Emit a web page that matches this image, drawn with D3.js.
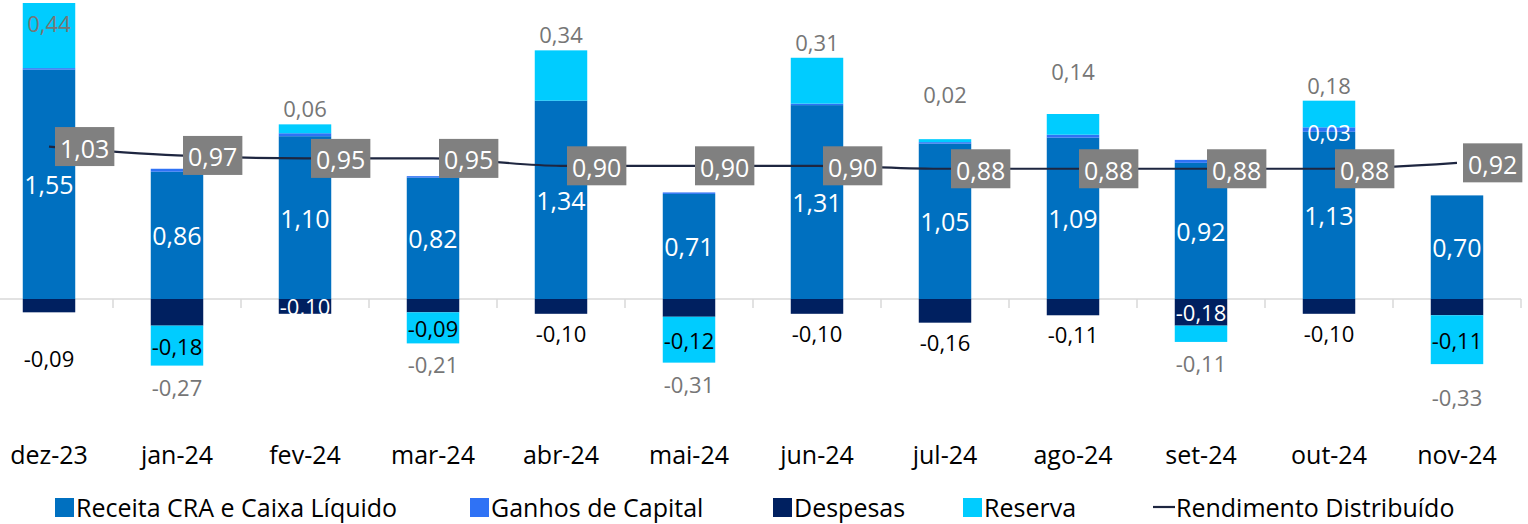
<!doctype html>
<html>
  <head>
    <script src="https://cdn.jsdelivr.net/npm/d3@7/dist/d3.min.js"></script>
    <style>
      body { margin: 0; background: #fff; }
      text { font-family: "Open Sans", sans-serif; }
    </style>
  </head>
  <body>
    <svg id="chart" width="1528" height="524"></svg>
    <script>
      // data
      var months = ["dez-23","jan-24","fev-24","mar-24","abr-24","mai-24","jun-24","jul-24","ago-24","set-24","out-24","nov-24"];
      var receita = [1.55, 0.86, 1.10, 0.82, 1.34, 0.71, 1.31, 1.05, 1.09, 0.92, 1.13, 0.70];
      var ganhos  = [0.01, 0.02, 0.02, 0.01, 0.00, 0.01, 0.01, 0.01, 0.02, 0.02, 0.03, 0.00];
      var despesas = [-0.09, -0.18, -0.10, -0.09, -0.10, -0.12, -0.10, -0.16, -0.11, -0.18, -0.10, -0.11];
      var reserva = [0.44, -0.27, 0.06, -0.21, 0.34, -0.31, 0.31, 0.02, 0.14, -0.11, 0.18, -0.33];
      var rendimento = [1.03, 0.97, 0.95, 0.95, 0.90, 0.90, 0.90, 0.88, 0.88, 0.88, 0.88, 0.92];

      var colors = {receita: "#0070C0", ganhos: "#2F72F5", despesas: "#002060", reserva: "#00CCFF", line: "#1E2640", box: "#808080"};
      // despesas labels that sit inside the dark bar (as in the source)
      var despInside = ["fev-24", "set-24"];
      // hand-moved labels in the source chart (pixels)
      var labelNudge = {"dez-23": {despesas: 27}, "jul-24": {reserva: -29}, "ago-24": {reserva: -27}, "nov-24": {reserva: 12}};
      var nudge = function(m, k) { return (labelNudge[m] && labelNudge[m][k]) || 0; };

      var svg = d3.select("#chart");
      var fmt = function(v) { return d3.format(".2f")(v).replace(".", ",").replace("−", "-"); };

      var x = d3.scaleBand().domain(months).range([-15, 1521]).paddingInner(0.59).paddingOuter(0.295);
      var y = d3.scaleLinear().domain([-0.6, 2.0]).range([387.8, 3]);
      var cx = function(m) { return x(m) + x.bandwidth() / 2; };

      // zero axis with ticks
      var axisG = svg.append("g");
      axisG.append("line").attr("x1", 0).attr("x2", 1521).attr("y1", y(0)).attr("y2", y(0))
        .attr("stroke", "#d9d9d9").attr("stroke-width", 1.5);
      axisG.selectAll("tick").data(months).enter().append("line")
        .attr("x1", function(d) { return cx(d) + x.step() / 2; })
        .attr("x2", function(d) { return cx(d) + x.step() / 2; })
        .attr("y1", y(0)).attr("y2", y(0) + 9)
        .attr("stroke", "#d9d9d9").attr("stroke-width", 1.5);

      // build segments
      var segs = [];
      months.forEach(function(m, i) {
        var pos = 0, neg = 0;
        segs.push({m: m, k: "receita", y0: pos, y1: pos += receita[i], v: receita[i]});
        if (ganhos[i] > 0) segs.push({m: m, k: "ganhos", y0: pos, y1: pos += ganhos[i], v: ganhos[i]});
        segs.push({m: m, k: "despesas", y0: neg, y1: neg += despesas[i], v: despesas[i]});
        if (reserva[i] > 0) segs.push({m: m, k: "reserva", y0: pos, y1: pos += reserva[i], v: reserva[i]});
        else segs.push({m: m, k: "reserva", y0: neg, y1: neg += reserva[i], v: reserva[i]});
      });

      svg.append("g").selectAll("rect").data(segs).enter().append("rect")
        .attr("x", function(d) { return x(d.m); })
        .attr("width", x.bandwidth())
        .attr("y", function(d) { return y(Math.max(d.y0, d.y1)); })
        .attr("height", function(d) { return Math.abs(y(d.y0) - y(d.y1)); })
        .attr("fill", function(d) { return colors[d.k]; });

      // line
      var line = d3.line().x(function(d, i) { return cx(months[i]); }).y(function(d) { return y(d); })
        .curve(d3.curveMonotoneX);
      svg.append("path").datum(rendimento).attr("d", line)
        .attr("fill", "none").attr("stroke", colors.line).attr("stroke-width", 2.2);

      // labels
      var lab = svg.append("g");
      function addText(tx, ty, t, size, fill) {
        return lab.append("text").attr("x", tx).attr("y", ty).attr("text-anchor", "middle")
          .attr("dominant-baseline", "central").attr("font-size", size).attr("fill", fill).text(t);
      }
      segs.forEach(function(d) {
        var c = cx(d.m), n = nudge(d.m, d.k);
        if (d.k === "receita") addText(c, y(d.v / 2), fmt(d.v), 25, "#fff");
        if (d.k === "ganhos" && d.v >= 0.03) addText(c, y((d.y0 + d.y1) / 2) + 2, fmt(d.v), 22, "#fff");
        if (d.k === "reserva") {
          if (d.v > 0) addText(c, Math.max(y(d.y1) - 16, 23) + n, fmt(d.v), 22, "#767676");
          else addText(c, y(d.y1) + 21 + n, fmt(d.v), 22, "#767676");
        }
        if (d.k === "despesas") {
          var i = months.indexOf(d.m);
          if (despInside.indexOf(d.m) >= 0) addText(c, y(d.y1 / 2), fmt(d.v), 22, "#fff");
          else if (reserva[i] < 0) addText(c, y(d.y1 + reserva[i] / 2) + n, fmt(d.v), 22, "#000");
          else addText(c, y(d.y1) + 19 + n, fmt(d.v), 22, "#000");
        }
      });

      // line labels in grey boxes
      rendimento.forEach(function(v, i) {
        var g = svg.append("g");
        var t = g.append("text").attr("x", 0).attr("y", 0).attr("dominant-baseline", "central")
          .attr("font-size", 25).attr("fill", "#fff").text(fmt(v));
        var w = t.node().getBBox().width + 10;
        var bx = cx(months[i]) + 6, by = y(v);
        g.insert("rect", "text").attr("x", bx).attr("y", by - 19.5).attr("width", w).attr("height", 39)
          .attr("fill", colors.box);
        t.attr("x", bx + w / 2).attr("y", by + 1).attr("text-anchor", "middle");
      });

      // category labels
      svg.append("g").selectAll("text").data(months).enter().append("text")
        .attr("x", function(d) { return cx(d); }).attr("y", 454)
        .attr("text-anchor", "middle").attr("dominant-baseline", "central")
        .attr("font-size", 25).attr("fill", "#000").text(function(d) { return d; });

      // legend
      var legendItems = [
        {name: "Receita CRA e Caixa Líquido", color: colors.receita, x: 55},
        {name: "Ganhos de Capital", color: colors.ganhos, x: 470},
        {name: "Despesas", color: colors.despesas, x: 773},
        {name: "Reserva", color: colors.reserva, x: 963},
        {name: "Rendimento Distribuído", color: colors.line, x: 1153, isLine: true}
      ];
      var leg = svg.append("g");
      legendItems.forEach(function(d) {
        if (d.isLine) leg.append("line").attr("x1", d.x).attr("x2", d.x + 22).attr("y1", 507).attr("y2", 507)
          .attr("stroke", d.color).attr("stroke-width", 2.2);
        else leg.append("rect").attr("x", d.x).attr("y", 498).attr("width", 19).attr("height", 19).attr("fill", d.color);
        leg.append("text").attr("x", d.x + (d.isLine ? 23 : 21)).attr("y", 507).attr("dominant-baseline", "central")
          .attr("font-size", 25).attr("fill", "#000").text(d.name);
      });
    </script>
  </body>
</html>
